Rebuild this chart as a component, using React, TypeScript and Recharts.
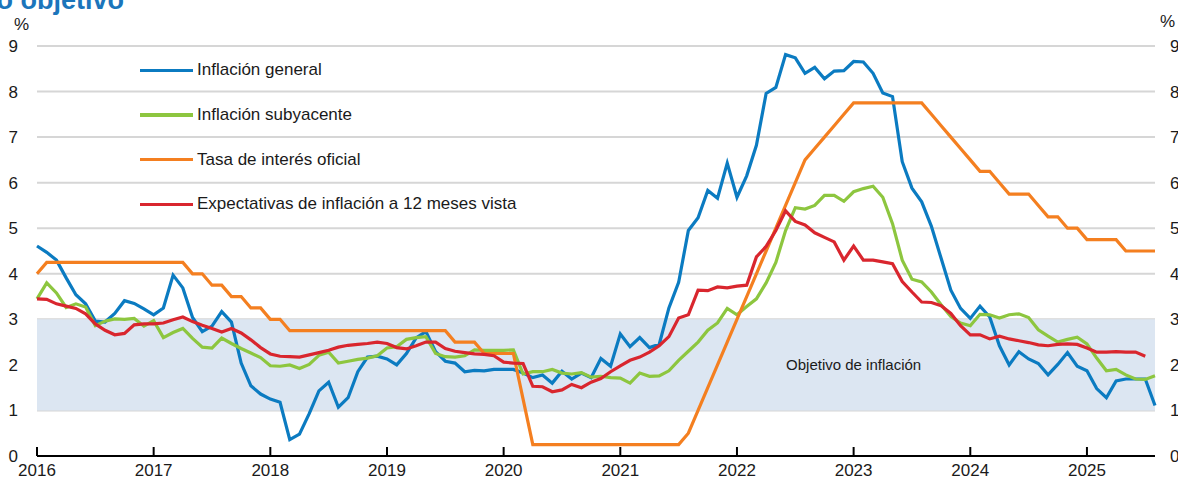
import {
  LineChart,
  Line,
  XAxis,
  YAxis,
  CartesianGrid,
  ReferenceArea,
  ReferenceDot,
  Legend,
} from "recharts";

// monthly, Jan 2016 .. Aug 2025
const YEARS = ["2016", "2017", "2018", "2019", "2020", "2021", "2022", "2023", "2024", "2025"];

const headline = [
  4.61, 4.47, 4.3, 3.91, 3.54, 3.34, 2.96, 2.94, 3.13, 3.41, 3.35, 3.23,
  3.1, 3.25, 3.97, 3.69, 3.04, 2.73, 2.85, 3.17, 2.94, 2.04, 1.54, 1.36,
  1.25, 1.18, 0.36, 0.48, 0.93, 1.43, 1.62, 1.07, 1.28, 1.85, 2.17, 2.19,
  2.13, 2.0, 2.25, 2.59, 2.73, 2.29, 2.08, 2.04, 1.85, 1.88, 1.87, 1.9,
  1.9, 1.9, 1.82, 1.72, 1.78, 1.6, 1.86, 1.69, 1.82, 1.72, 2.14, 1.97,
  2.68, 2.4, 2.6, 2.38, 2.45, 3.25, 3.81, 4.95, 5.23, 5.83, 5.66, 6.43,
  5.68, 6.15, 6.82, 7.96, 8.09, 8.81, 8.74, 8.4, 8.53, 8.28, 8.45, 8.46,
  8.66, 8.65, 8.4, 7.97, 7.89, 6.46, 5.88, 5.58, 5.04, 4.34, 3.64, 3.24,
  3.02, 3.29, 3.05, 2.42, 2.0, 2.29, 2.13, 2.03, 1.78, 2.01, 2.27, 1.97,
  1.87, 1.48, 1.28, 1.65, 1.69, 1.69, 1.69, 1.11,
];

const core = [
  3.45, 3.8, 3.58, 3.26, 3.34, 3.27, 2.86, 2.96, 3.01, 3.0, 3.02, 2.85,
  2.97, 2.6, 2.71, 2.8, 2.58, 2.39, 2.37, 2.59, 2.47, 2.36, 2.26, 2.16,
  1.98, 1.97, 2.0, 1.92, 2.01, 2.21, 2.28, 2.04, 2.08, 2.12, 2.15, 2.2,
  2.37, 2.4, 2.56, 2.6, 2.62, 2.25, 2.18, 2.17, 2.2, 2.33, 2.32, 2.32,
  2.32, 2.33, 1.8, 1.85, 1.85, 1.9, 1.82, 1.8, 1.83, 1.73, 1.75, 1.72,
  1.71, 1.6, 1.82, 1.75, 1.76, 1.87, 2.1, 2.3, 2.5, 2.76, 2.92, 3.24,
  3.1, 3.28, 3.45, 3.8, 4.25, 4.95, 5.45, 5.42, 5.5, 5.72, 5.72, 5.59,
  5.8, 5.87, 5.92, 5.68, 5.1, 4.3, 3.88, 3.82, 3.6, 3.32, 3.06, 2.92,
  2.86, 3.11, 3.1, 3.03, 3.1, 3.12, 3.04, 2.77, 2.63, 2.5, 2.56, 2.61,
  2.46, 2.15, 1.87, 1.9, 1.78, 1.69, 1.68, 1.76,
];

const policyRate = [
  4.0, 4.25, 4.25, 4.25, 4.25, 4.25, 4.25, 4.25, 4.25, 4.25, 4.25, 4.25,
  4.25, 4.25, 4.25, 4.25, 4.0, 4.0, 3.75, 3.75, 3.5, 3.5, 3.25, 3.25,
  3.0, 3.0, 2.75, 2.75, 2.75, 2.75, 2.75, 2.75, 2.75, 2.75, 2.75, 2.75,
  2.75, 2.75, 2.75, 2.75, 2.75, 2.75, 2.75, 2.5, 2.5, 2.5, 2.25, 2.25,
  2.25, 2.25, 1.25, 0.25, 0.25, 0.25, 0.25, 0.25, 0.25, 0.25, 0.25, 0.25,
  0.25, 0.25, 0.25, 0.25, 0.25, 0.25, 0.25, 0.5, 1.0, 1.5, 2.0, 2.5,
  3.0, 3.5, 4.0, 4.5, 5.0, 5.5, 6.0, 6.5, 6.75, 7.0, 7.25, 7.5,
  7.75, 7.75, 7.75, 7.75, 7.75, 7.75, 7.75, 7.75, 7.5, 7.25, 7.0, 6.75,
  6.5, 6.25, 6.25, 6.0, 5.75, 5.75, 5.75, 5.5, 5.25, 5.25, 5.0, 5.0,
  4.75, 4.75, 4.75, 4.75, 4.5, 4.5, 4.5, 4.5,
];

const expectations = [
  3.45, 3.44, 3.34, 3.29, 3.24, 3.12, 2.9, 2.76, 2.66, 2.69, 2.88, 2.9,
  2.9, 2.92, 2.99, 3.05, 2.95, 2.87, 2.8, 2.72, 2.8, 2.7, 2.55, 2.38,
  2.24, 2.19, 2.18, 2.17, 2.22, 2.27, 2.32, 2.39, 2.43, 2.45, 2.47, 2.5,
  2.47, 2.38, 2.35, 2.42, 2.5, 2.5, 2.36, 2.3, 2.27, 2.24, 2.23, 2.2,
  2.06, 2.04, 2.03, 1.53, 1.52, 1.41, 1.45, 1.57, 1.5, 1.62, 1.7, 1.85,
  1.98, 2.1, 2.17, 2.28, 2.42, 2.62, 3.03, 3.1, 3.64, 3.63, 3.71, 3.69,
  3.73, 3.75, 4.37, 4.6, 4.95, 5.38, 5.15, 5.07, 4.9, 4.8, 4.7, 4.3,
  4.61, 4.3, 4.3, 4.26, 4.22, 3.83, 3.6, 3.38, 3.37, 3.3, 3.13, 2.86,
  2.66, 2.66, 2.57, 2.63, 2.57, 2.53, 2.49, 2.44, 2.42, 2.45, 2.46, 2.45,
  2.37, 2.28, 2.28, 2.29, 2.28, 2.28, 2.19, null,
];

const TARGET_LOW = 1;
const TARGET_HIGH = 3;
const Y_TICKS = [0, 1, 2, 3, 4, 5, 6, 7, 8, 9];

const SERIES = [
  { key: "headline", name: "Inflación general", color: "#0b7bc1" },
  { key: "core", name: "Inflación subyacente", color: "#8dc63f" },
  { key: "policyRate", name: "Tasa de interés oficial", color: "#f47f20" },
  { key: "expectations", name: "Expectativas de inflación a 12 meses vista", color: "#d9262e" },
];

const data = headline.map((v, i) => ({
  m: i,
  headline: v,
  core: core[i],
  policyRate: policyRate[i],
  expectations: expectations[i],
}));

const FONT = "'Liberation Sans', Arial, sans-serif";
const TEXT = "#1a1a1a";

function XTick({ x, y, payload }: any) {
  return (
    <g>
      <line x1={x} x2={x} y1={y - 9} y2={y} stroke="#000" strokeWidth={2} />
      <text x={x} y={y + 20} textAnchor="middle" fontSize={17} fill={TEXT} fontFamily={FONT}>
        {YEARS[Math.round(payload.value / 12)]}
      </text>
    </g>
  );
}

function LeftTick({ x, y, payload }: any) {
  return (
    <text x={x - 19} y={y + 6} textAnchor="end" fontSize={17} fill={TEXT} fontFamily={FONT}>
      {payload.value}
    </text>
  );
}

function RightTick({ x, y, payload }: any) {
  return (
    <text x={x + 15} y={y + 6} textAnchor="start" fontSize={17} fill={TEXT} fontFamily={FONT}>
      {payload.value}
    </text>
  );
}

function LegendBox() {
  return (
    <div style={{ fontFamily: FONT, fontSize: 17, color: TEXT }}>
      {SERIES.map((s) => (
        <div key={s.key} style={{ display: "flex", alignItems: "center", height: 44.7 }}>
          <div style={{ width: 53, height: 3.5, background: s.color, marginRight: 4 }} />
          <span style={{ whiteSpace: "nowrap" }}>{s.name}</span>
        </div>
      ))}
    </div>
  );
}

export default function App() {
  return (
    <div
      style={{
        position: "absolute",
        left: 0,
        top: 0,
        width: 1178,
        height: 482,
        overflow: "hidden",
        background: "#fff",
        fontFamily: FONT,
      }}
    >
      <div
        style={{
          position: "absolute",
          right: 1178 - 124,
          top: -13,
          fontSize: 27,
          lineHeight: "27px",
          fontWeight: 700,
          color: "#1b75bb",
          whiteSpace: "nowrap",
        }}
      >
        rango objetivo
      </div>
      <div style={{ position: "absolute", left: 14, top: 15, fontSize: 17, color: TEXT }}>%</div>
      <div style={{ position: "absolute", left: 1160, top: 12, fontSize: 17, color: TEXT }}>%</div>
      <LineChart width={1178} height={482} data={data} margin={{ top: 46, right: 0, bottom: 0, left: 0 }}>
        <CartesianGrid vertical={false} stroke="#d6d6d6" strokeWidth={2} yAxisId="left" />
        <ReferenceArea
          yAxisId="left"
          x1={0}
          x2={115}
          y1={TARGET_LOW}
          y2={TARGET_HIGH}
          fill="#dce6f2"
          fillOpacity={1}
          stroke="none"
        />
        <ReferenceDot
          yAxisId="left"
          x={84}
          y={2}
          r={0}
          fill="none"
          stroke="none"
          label={{ value: "Objetivo de inflación", position: "center", fontSize: 15, fill: TEXT, fontFamily: FONT }}
        />
        <XAxis
          dataKey="m"
          type="number"
          domain={[0, 115]}
          ticks={[0, 12, 24, 36, 48, 60, 72, 84, 96, 108]}
          height={26}
          tickSize={0}
          tickMargin={0}
          tickLine={false}
          axisLine={{ stroke: "#000", strokeWidth: 2 }}
          tick={<XTick />}
          interval={0}
        />
        <YAxis
          yAxisId="left"
          width={37}
          domain={[0, 9]}
          ticks={Y_TICKS}
          tickSize={0}
          tickMargin={0}
          axisLine={false}
          tickLine={false}
          tick={<LeftTick />}
          interval={0}
        />
        <YAxis
          yAxisId="right"
          orientation="right"
          width={23}
          domain={[0, 9]}
          ticks={Y_TICKS}
          tickSize={0}
          tickMargin={0}
          axisLine={false}
          tickLine={false}
          tick={<RightTick />}
          interval={0}
        />
        <Legend
          layout="vertical"
          align="center"
          verticalAlign="middle"
          content={<LegendBox />}
          wrapperStyle={{ left: 140, top: 48, width: 420 }}
        />
        {SERIES.map((s) => (
          <Line
            key={s.key}
            yAxisId="left"
            type="linear"
            dataKey={s.key}
            name={s.name}
            stroke={s.color}
            strokeWidth={3.2}
            dot={false}
            activeDot={false}
            isAnimationActive={false}
          />
        ))}
        {/* keeps right axis scaled like the left one */}
        <Line yAxisId="right" dataKey="policyRate" stroke="none" dot={false} activeDot={false} legendType="none" isAnimationActive={false} />
      </LineChart>
    </div>
  );
}
